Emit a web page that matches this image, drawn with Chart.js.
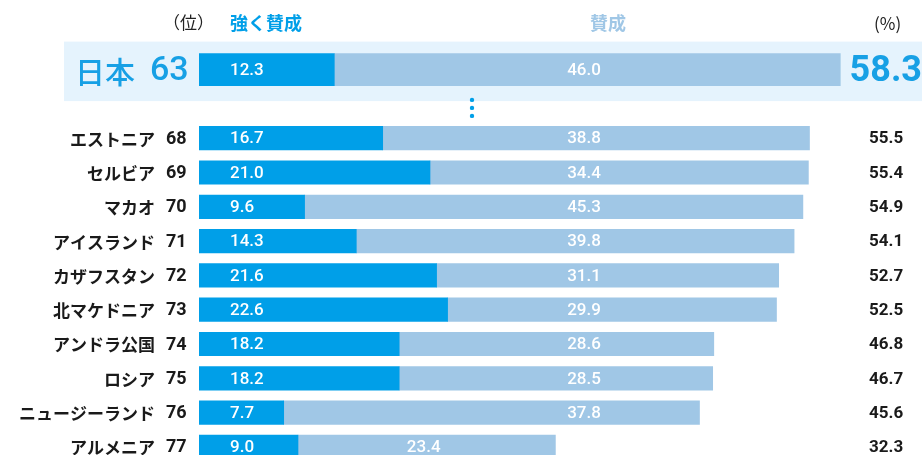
<!DOCTYPE html>
<html><head><meta charset="utf-8">
<script src="https://cdn.jsdelivr.net/npm/chart.js@4"></script>
<style>html,body{margin:0;padding:0;background:#fff;overflow:hidden;width:922px;height:455px}canvas{display:block}</style>
</head><body>
<canvas id="c" width="922" height="470"></canvas>
<script>
const countries = ['エストニア','セルビア','マカオ','アイスランド','カザフスタン','北マケドニア','アンドラ公国','ロシア','ニュージーランド','アルメニア'];
const ranks = [68,69,70,71,72,73,74,75,76,77];
const stronglyAgree = [16.7,21.0,9.6,14.3,21.6,22.6,18.2,18.2,7.7,9.0];
const agree = [38.8,34.4,45.3,39.8,31.1,29.9,28.6,28.5,37.8,23.4];
const totals = [55.5,55.4,54.9,54.1,52.7,52.5,46.8,46.7,45.6,32.3];
const japanName = '日本';
const japanRank = 63;
const japanStrong = 12.3;
const japanAgree = 46.0;
const japanTotal = 58.3;
const headerRank = '（位）';
const headerStrong = '強く賛成';
const headerAgree = '賛成';
const headerPct = '(%)';

const C_STRONG = '#009fe8';
const C_AGREE = '#a0c7e6';
const C_BAND = '#e5f3fd';
const JP = '"Noto Sans CJK JP", sans-serif';
const NUM = 'Roboto, "Noto Sans CJK JP", sans-serif';

const labels = [japanName, ''].concat(countries);
const pad = n => Array(n).fill(null);

const fmt = v => v.toFixed(1);

const overlay = {
  id: 'overlay',
  beforeDatasetsDraw(chart) {
    const {ctx} = chart;
    const y = chart.scales.y;
    const yc = y.getPixelForValue(0);
    ctx.save();
    ctx.fillStyle = C_BAND;
    ctx.fillRect(64, yc - 28, 922 - 64, 59.5);
    ctx.restore();
  },
  afterDatasetsDraw(chart) {
    const {ctx} = chart;
    const x = chart.scales.x, y = chart.scales.y;
    ctx.save();
    // header
    ctx.textBaseline = 'middle';
    ctx.font = '17px ' + JP; ctx.fillStyle = '#222'; ctx.textAlign = 'left';
    ctx.fillText(headerRank, 163, 23);
    ctx.font = 'bold 18px ' + JP; ctx.fillStyle = C_STRONG;
    ctx.fillText(headerStrong, 230, 23);
    ctx.fillStyle = C_AGREE;
    ctx.fillText(headerAgree, 590, 23);
    ctx.font = '17px ' + JP; ctx.fillStyle = '#222';
    ctx.fillText(headerPct, 874, 24);

    // Japan row
    const yj = y.getPixelForValue(0) + 1;
    ctx.fillStyle = '#17a0e5';
    ctx.font = '500 30px ' + JP; ctx.textAlign = 'left';
    ctx.fillText(japanName, 75, yj + 1);
    ctx.font = '500 34px ' + NUM;
    ctx.fillText(String(japanRank), 150, yj + 1);
    ctx.font = 'bold 36px ' + NUM; ctx.textAlign = 'right';
    ctx.fillText(fmt(japanTotal), 922, yj + 1);
    ctx.fillStyle = '#fff'; ctx.font = '500 17px ' + NUM; ctx.textAlign = 'left';
    ctx.fillText(fmt(japanStrong), x.getPixelForValue(0) + 31, yj);
    ctx.textAlign = 'center';
    ctx.fillText(fmt(japanAgree), x.getPixelForValue(35), yj);

    // dots
    const yg = y.getPixelForValue(1);
    ctx.fillStyle = C_STRONG;
    [-4, 4, 12].forEach(d => { ctx.beginPath(); ctx.arc(472, yg + d, 2.2, 0, Math.PI * 2); ctx.fill(); });

    // rows
    countries.forEach((name, i) => {
      const yc = y.getPixelForValue(i + 2) + 1;
      ctx.fillStyle = '#1a1a1a';
      ctx.font = 'bold 17px ' + JP; ctx.textAlign = 'right';
      ctx.fillText(name, 155, yc);
      ctx.font = 'bold 18px ' + NUM; ctx.textAlign = 'left';
      ctx.fillText(String(ranks[i]), 166, yc);
      ctx.font = 'bold 17px ' + NUM;
      ctx.fillText(fmt(totals[i]), 869, yc);
      ctx.fillStyle = '#fff'; ctx.font = '500 17px ' + NUM;
      ctx.fillText(fmt(stronglyAgree[i]), x.getPixelForValue(0) + 31, yc);
      const s = x.getPixelForValue(stronglyAgree[i]);
      const e = x.getPixelForValue(stronglyAgree[i] + agree[i]);
      let ax = x.getPixelForValue(35);
      if (e - ax < 30) ax = (s + e) / 2 - 3;
      ctx.textAlign = 'center';
      ctx.fillText(fmt(agree[i]), ax, yc);
    });
    ctx.restore();
  }
};

new Chart(document.getElementById('c'), {
  type: 'bar',
  data: {
    labels,
    datasets: [
      {data: [japanStrong].concat(pad(11)), backgroundColor: C_STRONG, barThickness: 32},
      {data: [japanAgree].concat(pad(11)), backgroundColor: C_AGREE, barThickness: 32},
      {data: pad(2).concat(stronglyAgree), backgroundColor: C_STRONG, barThickness: 23.5},
      {data: pad(2).concat(agree), backgroundColor: C_AGREE, barThickness: 23.5}
    ]
  },
  options: {
    indexAxis: 'y',
    responsive: false,
    animation: false,
    events: [],
    layout: {padding: {left: 199, right: 63, top: 52.45, bottom: 5.95}},
    scales: {
      x: {display: false, stacked: true, min: 0, max: 60},
      y: {display: false, stacked: true}
    },
    plugins: {legend: {display: false}, tooltip: {enabled: false}}
  },
  plugins: [overlay]
});
</script>
</body></html>
